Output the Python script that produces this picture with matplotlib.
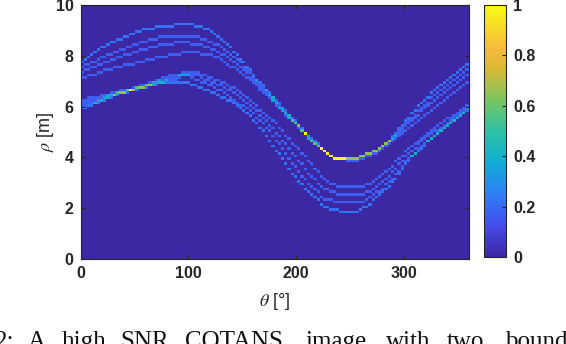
import numpy as np
import matplotlib
matplotlib.use("Agg")
import matplotlib.pyplot as plt
from matplotlib.colors import LinearSegmentedColormap

# rho of each boundary curve, in tenths of a metre, one value per 3 deg column
A1 = [77,78,79,80,81, 82,83,83,84,85, 85,86,86,87,87, 88,88,89,89,90,
      90,90,90,91,91, 91,91,91,91,92, 92,92,92,92,92, 91,91,91,90,90,
      89,88,87,86,85, 84,83,81,80,78, 77,75,74,72,70, 69,68,66,65,63,
      62,61,59,58,56, 55,54,52,51,49, 48,47,46,45,43, 42,41,40,39,39,
      39,39,39,39,39, 39,40,40,41,41, 42,42,43,44,45, 46,48,49,51,52,
      54,55,57,58,60, 61,62,63,65,66, 67,68,69,70,71, 72,73,74,75,76]
A2 = [75,76,76,77,77, 78,79,79,80,80, 81,81,82,82,83, 83,84,84,85,85,
      85,86,86,86,87, 87,87,87,87,87, 87,87,87,87,87, 87,87,86,86,85,
      85,84,84,83,82, 81,80,79,78,77, 75,74,73,71,70, 68,67,66,64,63,
      61,60,59,57,56, 54,53,52,50,49, 47,46,45,44,43, 42,41,40,39,39,
      39,39,39,39,39, 39,40,40,41,41, 42,42,43,44,45, 46,47,48,50,51,
      53,54,55,56,58, 59,60,61,63,64, 65,66,67,68,69, 70,71,72,73,74]
A3 = [73,74,74,75,75, 76,76,77,77,78, 78,79,79,80,80, 80,81,81,82,82,
      82,83,83,83,84, 84,84,84,84,85, 85,85,85,85,84, 84,84,84,83,83,
      82,82,81,80,80, 79,78,77,76,75, 74,73,71,70,69, 67,66,65,64,62,
      61,59,58,56,55, 54,53,51,50,49, 47,46,45,44,43, 42,41,40,39,39,
      39,39,39,39,39, 39,40,40,41,41, 42,42,43,44,45, 46,47,48,49,50,
      52,53,54,55,56, 58,59,60,61,62, 63,64,65,66,67, 68,69,70,71,72]
A4 = [71,71,72,72,72, 73,73,74,74,74, 75,75,75,76,76, 76,76,77,77,77,
      78,78,78,79,79, 79,79,80,80,80, 80,81,81,81,81, 81,81,80,80,80,
      80,79,79,78,77, 76,75,75,74,73, 72,71,70,69,68, 66,65,64,63,62,
      60,59,58,57,55, 54,53,52,50,49, 48,46,45,44,43, 42,41,40,39,39,
      39,39,38,38,38, 38,39,39,40,40, 41,41,42,43,44, 45,46,47,48,49,
      50,51,52,53,54, 55,56,57,58,59, 60,61,62,63,64, 65,66,67,68,69]
B1 = [62,62,63,63,63, 63,64,64,64,65, 65,65,66,66,66, 66,67,67,68,68,
      68,69,69,70,70, 71,71,72,72,72, 72,73,73,73,73, 73,73,72,72,71,
      71,70,70,69,69, 68,67,67,66,65, 64,63,62,61,60, 58,57,56,55,54,
      53,51,50,48,47, 45,44,43,41,40, 38,37,35,34,32, 31,30,29,29,28,
      28,28,28,28,28, 28,28,28,29,29, 30,31,32,33,34, 35,36,38,39,40,
      42,43,44,45,46, 47,48,49,50,51, 52,53,54,55,55, 56,57,58,59,60]
B2 = [61,61,62,62,62, 62,63,63,64,64, 64,65,65,65,66, 66,66,67,67,67,
      68,68,69,69,70, 70,70,71,71,71, 72,72,72,72,72, 72,72,71,70,70,
      69,69,68,68,67, 66,66,65,64,63, 62,61,60,59,58, 56,55,54,52,51,
      49,48,46,45,43, 41,40,38,37,35, 33,32,31,29,28, 27,27,26,26,25,
      25,25,25,25,25, 25,25,25,26,26, 27,28,29,30,31, 32,34,35,37,38,
      40,41,42,43,45, 46,47,48,49,50, 50,51,52,53,54, 55,56,57,58,59]
B3 = [60,60,61,61,61, 62,62,63,63,64, 64,65,65,65,66, 66,66,67,67,67,
      68,68,68,69,69, 69,70,70,70,70, 71,72,72,72,71, 70,70,69,69,68,
      68,67,66,66,65, 64,63,62,61,60, 60,59,58,57,55, 54,53,51,50,48,
      46,45,43,41,39, 37,36,34,32,31, 29,28,27,26,24, 23,23,23,22,22,
      22,22,22,22,22, 22,22,22,23,24, 25,26,26,27,29, 30,31,33,34,36,
      38,39,40,41,43, 44,45,46,47,48, 49,50,51,52,53, 54,55,56,57,59]
B4 = [59,59,60,60,61, 61,62,62,63,63, 64,64,65,65,65, 66,66,66,67,67,
      67,68,68,68,69, 69,69,69,69,69, 69,69,69,69,68, 68,67,67,66,66,
      65,65,64,63,63, 62,62,61,60,59, 58,57,56,54,53, 51,50,48,46,44,
      42,41,39,37,35, 33,32,30,29,27, 26,25,24,23,21, 20,20,19,19,19,
      18,18,18,18,18, 18,19,20,20,21, 23,24,25,26,27, 28,30,31,33,35,
      37,38,40,41,42, 43,44,46,47,48, 49,50,51,52,53, 54,55,56,57,58]
CURVES = [A1, A2, A3, A4, B1, B2, B3, B4]
# the outer curve of each bundle reads a little brighter
CURVE_WEIGHTS = [0.22, 0.17, 0.17, 0.17, 0.17, 0.17, 0.17, 0.22]

X_TICKS = [0, 100, 200, 300]
Y_TICKS = [0, 2, 4, 6, 8, 10]
CBAR_TICKS = [0, 0.2, 0.4, 0.6, 0.8, 1]
CBAR_LABELS = ["0", "0.2", "0.4", "0.6", "0.8", "1"]
CAPTION_WORDS = ["2:", "A", "high", "SNR", "COTANS", "image", "with", "two", "bound"]
CAPTION_X = [-5, 28, 62, 120, 185, 305, 386, 447, 505]

DARK = "#262626"
W, H = 566, 344

# parula-like colormap
parula = LinearSegmentedColormap.from_list("parula", [
    (0.0, (0.235, 0.155, 0.640)),
    (0.125, (0.270, 0.300, 0.930)),
    (0.25, (0.180, 0.500, 0.960)),
    (0.375, (0.060, 0.680, 0.840)),
    (0.5, (0.180, 0.760, 0.640)),
    (0.625, (0.480, 0.770, 0.370)),
    (0.75, (0.860, 0.730, 0.200)),
    (0.83, (0.970, 0.730, 0.240)),
    (1.0, (0.977, 0.984, 0.080)),
])

plt.rcParams["font.family"] = ["Liberation Sans", "DejaVu Sans"]
plt.rcParams["mathtext.fontset"] = "stix"

# accumulate the curves on the (rho, theta) grid
img = np.zeros((100, len(A1)))
cols = np.arange(len(A1))
for curve, weight in zip(CURVES, CURVE_WEIGHTS):
    img[np.array(curve), cols] += weight
# overlaps saturate faster than a plain sum
img = np.interp(img, [0, 0.34, 0.51, 0.73], [0, 0.34, 0.55, 1])

fig = plt.figure(figsize=(W / 100, H / 100), dpi=100)
ax = fig.add_axes([80.5 / W, 1 - 259 / H, 388 / W, 254 / H])
theta_edges = np.linspace(0, 360, len(A1) + 1)
rho_edges = np.linspace(0, 10, 101)
mesh = ax.pcolormesh(theta_edges, rho_edges, img, cmap=parula, vmin=0, vmax=1,
                     shading="flat", antialiased=False, rasterized=True)
ax.set_xlim(0, 360)
ax.set_ylim(0, 10)
ax.set_xticks(X_TICKS)
ax.set_yticks(Y_TICKS)
ax.tick_params(direction="in", length=3, width=0.8, top=True, right=True,
               color=DARK, labelcolor=DARK, labelsize=11.5, pad=5)
for lab in ax.get_xticklabels() + ax.get_yticklabels():
    lab.set_fontweight("bold")
for s in ax.spines.values():
    s.set_color(DARK)
    s.set_linewidth(0.8)
fig.text(275 / W, 1 - 302 / H, r"$\theta$ [°]", ha="center", va="center",
         fontsize=13, color=DARK)
fig.text(46 / W, 1 - 132 / H, r"$\rho$ [m]", ha="center", va="center",
         fontsize=13, color=DARK, rotation=90)

cax = fig.add_axes([483.5 / W, 1 - 257 / H, 23 / W, 252 / H])
cb = fig.colorbar(mesh, cax=cax)
cb.set_ticks(CBAR_TICKS)
cb.set_ticklabels(CBAR_LABELS)
cax.tick_params(direction="in", length=3, width=0.8, color=DARK, labelcolor=DARK,
                labelsize=11.5, pad=5)
for lab in cax.get_yticklabels():
    lab.set_fontweight("bold")
cb.outline.set_edgecolor(DARK)
cb.outline.set_linewidth(0.8)

for word, x in zip(CAPTION_WORDS, CAPTION_X):
    fig.text(x / W, 1 - 331 / H, word, ha="left", va="top", fontsize=18,
             color="#111111", family="Liberation Serif")

fig.savefig("out.png", dpi=100)
